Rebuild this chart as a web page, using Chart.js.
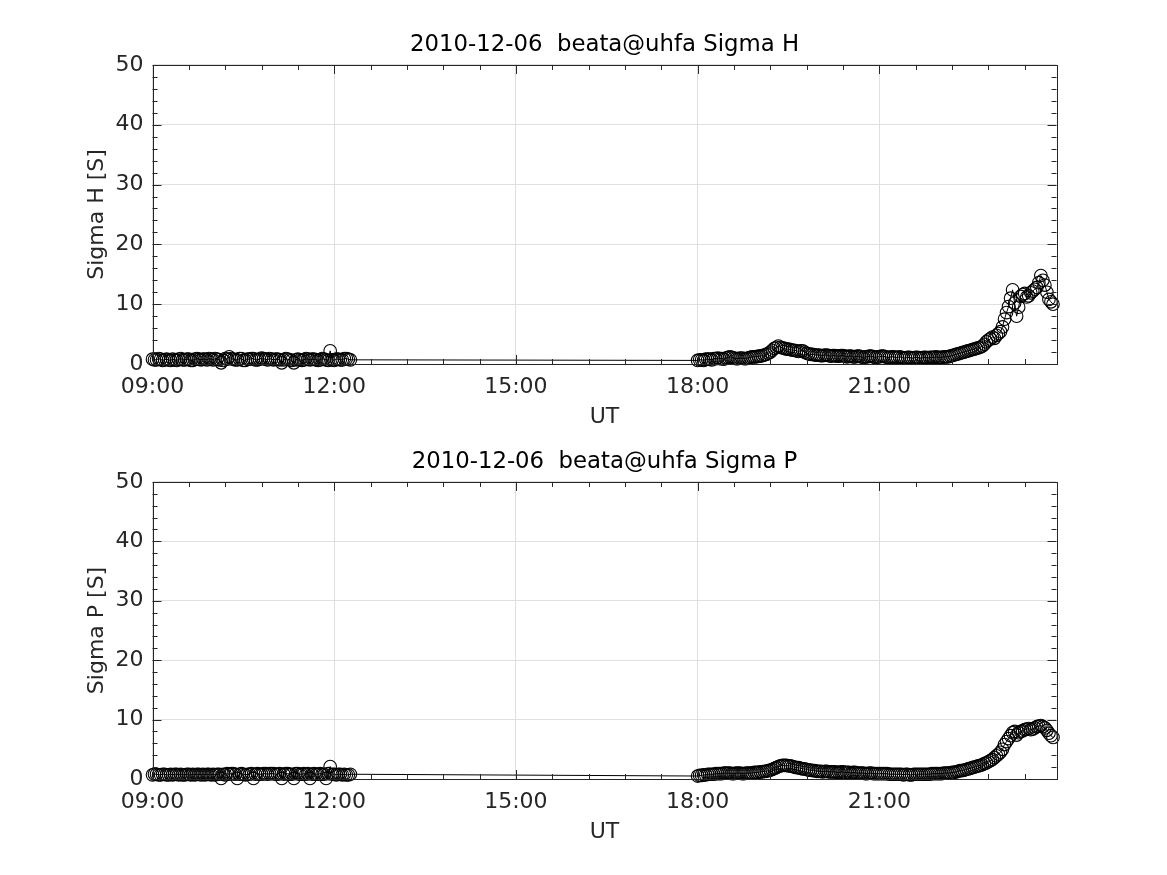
<!DOCTYPE html>
<html>
<head>
<meta charset="utf-8">
<script src="https://cdn.jsdelivr.net/npm/chart.js@4"></script>
<style>
  body { margin: 0; background: #fff; }
  #wrap { position: relative; width: 1167px; height: 875px; background: #fff; }
  canvas { position: absolute; left: 0; }
</style>
</head>
<body>
<div id="wrap">
  <canvas id="chartH" width="1167" height="437" style="top:0px"></canvas>
  <canvas id="chartP" width="1167" height="437" style="top:417px"></canvas>
</div>
<script>
// sampling: one value every 2 min
var stepMin = 2;
var seg1Start = 9 * 60;   // 09:00
var seg2Start = 18 * 60;  // 18:00

// Sigma H [S]
var sigmaH1 = [
  0.8, 0.7, 0.7, 0.9, 0.8, 0.6, 0.7, 0.8, 0.7, 0.6,
  0.8, 0.7, 0.6, 0.8, 0.9, 0.7, 0.7, 0.8, 0.8, 0.6,
  0.6, 0.8, 0.9, 0.8, 0.7, 0.8, 0.8, 0.7, 0.9, 0.8,
  0.7, 0.9, 0.8, 0.7, 0.2, 0.6, 0.9, 0.8, 1.2, 0.9,
  0.8, 0.7, 0.7, 0.9, 0.9, 0.6, 0.6, 0.8, 0.8, 0.9,
  0.9, 0.7, 0.7, 0.8, 1.0, 0.9, 0.8, 0.7, 0.9, 0.8,
  0.7, 0.8, 0.8, 0.7, 0.2, 0.7, 0.9, 0.8, 0.7, 0.6,
  0.2, 0.7, 0.8, 0.7, 0.6, 0.7, 0.9, 0.8, 0.7, 0.8,
  0.8, 0.7, 0.6, 0.7, 0.9, 0.8, 0.7, 0.6, 2.2, 0.7,
  0.6, 0.8, 0.8, 0.7, 0.7, 0.9, 0.9, 0.8, 0.7
];
var sigmaH2 = [
  0.6, 0.7, 0.7, 0.6, 0.8, 0.8, 0.8, 0.7, 0.9, 0.9,
  1.0, 0.9, 0.9, 0.8, 1.0, 1.1, 1.2, 1.1, 1.0, 0.9,
  0.9, 1.0, 1.0, 0.9, 0.9, 1.0, 1.1, 1.2, 1.2, 1.2,
  1.3, 1.3, 1.4, 1.5, 1.6, 1.8, 2.0, 2.3, 2.6, 2.8,
  3.0, 2.8, 2.7, 2.6, 2.5, 2.5, 2.4, 2.3, 2.3, 2.2,
  2.1, 2.2, 2.2, 2.0, 1.8, 1.7, 1.6, 1.6, 1.5, 1.5,
  1.5, 1.4, 1.4, 1.5, 1.5, 1.4, 1.3, 1.4, 1.4, 1.3,
  1.3, 1.4, 1.4, 1.3, 1.2, 1.3, 1.3, 1.2, 1.2, 1.3,
  1.3, 1.2, 1.1, 1.2, 1.2, 1.3, 1.3, 1.2, 1.1, 1.2,
  1.2, 1.3, 1.3, 1.2, 1.1, 1.1, 1.2, 1.2, 1.1, 1.1,
  1.2, 1.1, 1.0, 1.0, 1.1, 1.1, 1.0, 1.0, 1.1, 1.1,
  1.0, 1.0, 1.1, 1.1, 1.0, 1.1, 1.1, 1.1, 1.2, 1.1,
  1.1, 1.1, 1.2, 1.2, 1.2, 1.3, 1.4, 1.5, 1.6, 1.7,
  1.8, 1.9, 2.0, 2.1, 2.2, 2.3, 2.4, 2.5, 2.6, 2.7,
  2.8, 3.0, 3.3, 3.7, 4.0, 4.2, 4.5, 4.3, 4.8, 5.1,
  5.4, 6.2, 7.5, 8.6, 9.6, 11.0, 12.4, 10.2, 8.0, 9.5,
  11.3, 11.6, 11.8, 11.2, 11.4, 11.9, 12.2, 12.5, 12.8, 13.6,
  14.8, 14.0, 13.2, 12.0, 10.8, 10.4, 10.0
];

// Sigma P [S]
var sigmaP1 = [
  0.7, 0.8, 0.8, 0.7, 0.7, 0.8, 0.8, 0.7, 0.7, 0.8,
  0.7, 0.8, 0.8, 0.7, 0.8, 0.7, 0.7, 0.8, 0.8, 0.7,
  0.8, 0.7, 0.8, 0.8, 0.7, 0.8, 0.7, 0.8, 0.8, 0.7,
  0.8, 0.7, 0.8, 0.8, 0.1, 0.8, 0.7, 0.9, 0.8, 0.9,
  0.9, 0.8, 0.1, 0.8, 0.9, 0.8, 0.7, 0.8, 0.8, 0.9,
  0.1, 0.8, 0.9, 0.8, 0.8, 0.9, 0.9, 0.8, 0.9, 0.9,
  0.9, 0.8, 0.8, 0.9, 0.1, 0.8, 0.9, 0.9, 0.8, 0.8,
  0.1, 0.9, 0.9, 0.8, 0.8, 0.9, 0.8, 0.9, 0.1, 0.8,
  0.9, 0.8, 0.8, 0.9, 0.8, 0.8, 0.1, 0.9, 2.1, 0.8,
  0.8, 0.7, 0.8, 0.8, 0.7, 0.8, 0.7, 0.7, 0.8
];
var sigmaP2 = [
  0.5, 0.6, 0.6, 0.7, 0.7, 0.8, 0.8, 0.8, 0.8, 0.9,
  0.9, 0.9, 0.9, 1.0, 1.0, 1.0, 1.0, 0.9, 0.9, 1.0,
  1.0, 1.0, 0.9, 0.9, 1.0, 1.0, 1.0, 1.0, 1.1, 1.1,
  1.1, 1.2, 1.2, 1.3, 1.3, 1.4, 1.5, 1.6, 1.8, 1.9,
  2.1, 2.2, 2.3, 2.3, 2.3, 2.2, 2.2, 2.1, 2.0, 1.9,
  1.9, 1.8, 1.7, 1.7, 1.6, 1.5, 1.5, 1.4, 1.4, 1.3,
  1.3, 1.3, 1.2, 1.3, 1.3, 1.2, 1.2, 1.2, 1.2, 1.1,
  1.1, 1.2, 1.2, 1.1, 1.1, 1.1, 1.0, 1.1, 1.1, 1.0,
  1.0, 1.0, 1.0, 0.9, 0.9, 1.0, 1.0, 0.9, 0.9, 0.9,
  0.9, 0.9, 0.9, 0.9, 0.9, 0.8, 0.8, 0.8, 0.8, 0.8,
  0.8, 0.8, 0.7, 0.8, 0.8, 0.7, 0.7, 0.8, 0.8, 0.8,
  0.8, 0.8, 0.8, 0.8, 0.8, 0.8, 0.9, 0.9, 0.9, 0.9,
  0.9, 0.9, 1.0, 1.0, 1.0, 1.0, 1.1, 1.1, 1.2, 1.3,
  1.4, 1.4, 1.5, 1.6, 1.7, 1.8, 1.9, 2.0, 2.1, 2.2,
  2.3, 2.4, 2.6, 2.7, 2.9, 3.1, 3.3, 3.6, 3.9, 4.2,
  4.5, 5.0, 5.8, 6.3, 6.8, 7.3, 7.8, 8.0, 7.4, 7.8,
  8.0, 8.1, 8.3, 8.4, 8.5, 8.3, 8.4, 8.6, 8.8, 8.9,
  9.0, 8.8, 8.6, 8.2, 7.7, 7.3, 7.0
];

var xMinH = 9;        // hours
var xMaxH = 23.925;
var xMajorStep = 3;
var xMinorStep = 0.6;
var yMax = 50;
var yMajorStep = 10;
var yMinorStep = 2;

var FONT = "'DejaVu Sans', sans-serif";
var AXIS_COLOR = "#262626";

function toPoints(startMin, values) {
  var pts = [];
  for (var i = 0; i < values.length; i++) {
    pts.push({ x: (startMin + i * stepMin) / 60, y: values[i] });
  }
  return pts;
}

function hhmm(v) {
  var h = Math.round(v);
  return (h < 10 ? "0" : "") + h + ":00";
}

// MATLAB-like box with inward ticks on all four sides
var boxTicks = {
  id: "boxTicks",
  afterDraw: function (chart) {
    var ctx = chart.ctx, a = chart.chartArea;
    var xs = chart.scales.x, ys = chart.scales.y;
    ctx.save();
    ctx.strokeStyle = AXIS_COLOR;
    ctx.lineWidth = 1;
    ctx.beginPath();
    var n = Math.round((xMaxH - xMinH) / xMinorStep);
    for (var i = 0; i <= n; i++) {
      var v = xMinH + i * xMinorStep;
      if (v > xMaxH) break;
      var len = (i % 5 === 0) ? 9 : 5;
      var px = Math.round(xs.getPixelForValue(v)) + 0.5;
      ctx.moveTo(px, a.bottom); ctx.lineTo(px, a.bottom - len);
      ctx.moveTo(px, a.top); ctx.lineTo(px, a.top + len);
    }
    for (var j = 0; j <= yMax / yMinorStep; j++) {
      var yv = j * yMinorStep;
      var ylen = (yv % yMajorStep === 0) ? 9 : 5;
      var py = Math.round(ys.getPixelForValue(yv)) + 0.5;
      ctx.moveTo(a.left, py); ctx.lineTo(a.left + ylen, py);
      ctx.moveTo(a.right, py); ctx.lineTo(a.right - ylen, py);
    }
    ctx.stroke();
    ctx.strokeRect(Math.round(a.left) + 0.5, Math.round(a.top) + 0.5,
      Math.round(a.right - a.left), Math.round(a.bottom - a.top));
    ctx.restore();
  }
};

function makeChart(id, title, yTitle, seg1, seg2, axisH) {
  var data = toPoints(seg1Start, seg1).concat(toPoints(seg2Start, seg2));
  return new Chart(document.getElementById(id), {
    type: "scatter",
    data: {
      datasets: [{
        data: data,
        showLine: true,
        borderColor: "#000",
        borderWidth: 1,
        pointStyle: "circle",
        pointRadius: 6.3,
        pointBorderWidth: 1.1,
        pointBorderColor: "#000",
        pointBackgroundColor: "rgba(0,0,0,0)",
        clip: false
      }]
    },
    options: {
      responsive: false,
      animation: false,
      devicePixelRatio: 1,
      layout: { padding: { left: 0, right: 110.5, top: 0, bottom: 0 } },
      plugins: {
        legend: { display: false },
        tooltip: { enabled: false },
        title: {
          display: true,
          text: title,
          fullSize: false,
          color: "#000",
          font: { family: FONT, size: 22.8, weight: "normal" },
          padding: { top: 31.3, bottom: 6.3 }
        }
      },
      scales: {
        x: {
          type: "linear",
          min: xMinH,
          max: xMaxH,
          grid: { color: "#dfdfdf", drawTicks: false },
          border: { display: false },
          ticks: {
            stepSize: xMajorStep,
            includeBounds: false,
            padding: 10,
            color: AXIS_COLOR,
            font: { family: FONT, size: 22 },
            maxRotation: 0,
            callback: hhmm
          },
          title: {
            display: true,
            text: "UT",
            color: AXIS_COLOR,
            font: { family: FONT, size: 22 },
            padding: { top: 0, bottom: axisH - 66.2 }
          },
          afterFit: function (s) { s.height = axisH; }
        },
        y: {
          min: 0,
          max: yMax,
          grid: { color: "#dfdfdf", drawTicks: false },
          border: { display: false },
          ticks: {
            stepSize: yMajorStep,
            padding: 9,
            color: AXIS_COLOR,
            font: { family: FONT, size: 22 }
          },
          title: {
            display: true,
            text: yTitle,
            color: AXIS_COLOR,
            font: { family: FONT, size: 22 },
            padding: { top: 83.8, bottom: 0 }
          },
          afterFit: function (s) { s.width = 152.5; }
        }
      }
    },
    plugins: [boxTicks]
  });
}

makeChart("chartH", "2010-12-06  beata@uhfa Sigma H", "Sigma H [S]", sigmaH1, sigmaH2, 73);
makeChart("chartP", "2010-12-06  beata@uhfa Sigma P", "Sigma P [S]", sigmaP1, sigmaP2, 75);
</script>
</body>
</html>
